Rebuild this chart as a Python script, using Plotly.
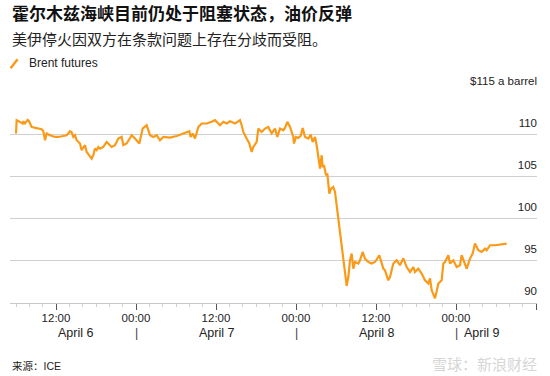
import pandas as pd
import plotly.graph_objects as go

# ---- data (hours since 2026-04-06 00:00, Brent price $/bbl) ----
hours = [6.0, 6.1, 6.6, 7.0, 7.1, 7.35, 7.75, 7.95, 8.35, 8.85,
         9.35, 9.85, 10.1, 10.35, 10.6, 11.1, 11.85, 12.35, 13.1, 13.6,
         14.1, 14.35, 14.6, 14.85, 15.1, 15.6, 15.85, 16.1, 16.35, 16.6,
         17.1, 17.35, 17.6, 17.85, 18.1, 18.35, 18.6, 19.1, 19.6, 20.35,
         20.85, 21.35, 21.85, 22.1, 22.6, 23.35, 23.85, 24.5, 25.0, 25.6,
         26.1, 26.6, 27.1, 27.6, 28.1, 29.1, 30.1, 31.1, 32.0, 32.2,
         32.5, 32.85, 33.35, 33.85, 34.6, 35.35, 35.85, 36.6, 37.1, 37.6,
         38.1, 38.85, 39.6, 39.85, 40.1, 40.6, 41.0, 41.35, 41.6, 42.1,
         42.35, 42.85, 43.35, 43.85, 44.35, 44.85, 45.2, 45.6, 46.1, 46.35,
         46.7, 47.1, 47.6, 47.7, 48.0, 48.35, 48.7, 49.0, 49.35, 49.85,
         50.2, 50.5, 50.85, 51.1, 51.35, 51.6, 51.85, 52.0, 52.2, 52.5,
         52.7, 53.0, 53.25, 53.6, 53.85, 55.6, 55.85, 56.1, 56.35, 56.6,
         56.85, 57.35, 57.6, 58.0, 58.35, 58.85, 59.35, 59.85, 60.5, 61.1,
         61.35, 61.85, 62.1, 62.6, 63.1, 63.6, 64.1, 64.6, 65.1, 65.6,
         65.85, 66.35, 66.85, 67.35, 67.85, 68.1, 68.35, 68.85, 69.1, 69.35,
         69.85, 70.1, 70.35, 70.85, 71.1, 71.6, 72.1, 72.6, 72.85, 73.1,
         73.6, 74.1, 74.5, 74.85, 75.35, 75.85, 76.35, 76.6, 77.1, 77.85,
         79.6]
prices = [110.17, 111.75, 111.55, 111.35, 111.62, 111.35, 111.78, 111.62, 110.94, 110.83,
          110.75, 110.67, 110.43, 109.36, 110.17, 109.96, 109.75, 109.75, 109.87, 109.96,
          110.43, 110.31, 109.75, 109.96, 109.36, 108.97, 108.17, 108.56, 108.77, 107.97,
          107.37, 107.18, 107.58, 108.37, 108.17, 108.56, 108.37, 108.56, 109.16, 108.56,
          108.77, 109.56, 109.75, 108.77, 108.97, 109.96, 109.56, 108.97, 110.75, 111.15,
          109.96, 109.75, 109.96, 109.36, 109.75, 109.68, 109.87, 110.17, 110.43, 109.75,
          110.17, 109.56, 110.94, 111.35, 111.35, 111.55, 111.75, 111.15, 111.55, 111.35,
          111.62, 111.35, 111.75, 111.15, 110.35, 109.56, 108.97, 107.97, 108.56, 109.16,
          110.75, 110.35, 110.75, 110.94, 110.17, 110.75, 109.75, 110.75, 110.55, 110.83,
          111.55, 110.94, 109.75, 108.97, 109.75, 109.64, 109.87, 110.83, 109.75, 109.56,
          110.04, 109.16, 109.75, 108.77, 107.58, 105.99, 107.58, 106.18, 106.39, 105.2,
          105.4, 103.02, 103.61, 103.8, 103.21, 92.05, 93.09, 95.08, 95.88, 94.09,
          94.88, 94.69, 95.08, 96.07, 95.28, 94.88, 94.69, 94.88, 95.68, 94.09,
          93.89, 92.70, 93.09, 94.69, 95.08, 94.49, 95.32, 94.28, 93.69, 94.28,
          93.69, 94.09, 93.50, 92.70, 92.31, 92.94, 91.51, 90.56, 91.39, 92.31,
          92.70, 94.69, 94.88, 95.68, 94.69, 95.08, 94.28, 94.49, 95.68, 95.08,
          94.09, 95.28, 95.88, 97.07, 96.27, 96.07, 96.47, 96.27, 96.87, 96.87,
          97.07]

y_ticks = [90, 95, 100, 105, 110, 115]
y_tick_labels = ["90", "95", "100", "105", "110", "$115 a barrel"]
date_labels = ["April 6", "April 7", "April 8", "April 9"]
date_hours = [12, 36, 60, 72]
midnight_hours = [24, 48, 72]

title = "霍尔木兹海峡目前仍处于阻塞状态，油价反弹"
subtitle = "美伊停火因双方在条款问题上存在分歧而受阻。"
series_name = "Brent futures"
source = "来源：ICE"
watermark = "雪球：新浪财经"

base = pd.Timestamp("2026-04-06 00:00")
times = [base + pd.Timedelta(hours=h) for h in hours]
def t(h):
    return base + pd.Timedelta(hours=h)

ORANGE = "#FA9A18"
FONT = "Liberation Sans, Arial, Noto Sans CJK SC, sans-serif"

fig = go.Figure()
fig.add_trace(go.Scatter(x=times, y=prices, mode="lines", name=series_name,
                         line=dict(color=ORANGE, width=2.2), showlegend=False,
                         hoverinfo="skip"))

fig.update_layout(
    width=550, height=376,
    margin=dict(l=10, r=13, t=92, b=73),
    paper_bgcolor="white", plot_bgcolor="white",
    font=dict(family=FONT, color="#222", size=11),
    showlegend=False,
)
fig.update_xaxes(
    type="date",
    range=[t(5.1), t(84.15)],
    tick0=t(0), dtick=12 * 3600 * 1000, tickformat="%H:%M",
    ticks="outside", ticklen=6, tickcolor="#555", tickwidth=1,
    ticklabelstandoff=-2,
    showgrid=False, zeroline=False,
    showline=True, linecolor="#c8c8c8", linewidth=1,
    tickfont=dict(size=11.5, color="#222"),
    minor=dict(dtick=2 * 3600 * 1000, tick0=t(0), ticks="outside",
               ticklen=3, tickcolor="#cfcfcf", showgrid=False),
)
fig.update_yaxes(
    range=[90, 115.1], side="right",
    tickmode="array", tickvals=y_ticks, ticktext=y_tick_labels,
    ticklabelposition="inside top", ticks="",
    ticklabeloverflow="allow", ticklabelshift=-4, ticklabelstandoff=-3,
    showgrid=True, gridcolor="#cfcfcf", gridwidth=1,
    zeroline=False, showline=False,
    tickfont=dict(size=11.5, color="#222"),
)

ann = []
ann.append(dict(text="<b>" + title + "</b>", xref="paper", yref="paper", x=0, y=1.370,
                xanchor="left", yanchor="middle", showarrow=False,
                font=dict(size=17, color="#111")))
ann.append(dict(text=subtitle, xref="paper", yref="paper", x=0, y=1.2486,
                xanchor="left", yanchor="middle", showarrow=False,
                font=dict(size=15, color="#222")))
ann.append(dict(text=series_name, xref="paper", yref="paper", x=0.033, y=1.137,
                xanchor="left", yanchor="middle", showarrow=False,
                font=dict(size=12, color="#222")))
ann.append(dict(text=source, xref="paper", yref="paper", x=0, y=-0.297,
                xanchor="left", yanchor="middle", showarrow=False,
                font=dict(size=10.5, color="#222")))
ann.append(dict(text=watermark, xref="paper", yref="paper", x=1.003, y=-0.292,
                xanchor="right", yanchor="middle", showarrow=False,
                font=dict(size=15, color="#d6d6d6")))
# date labels
for lbl, h in zip(date_labels, date_hours):
    if lbl == date_labels[0]:
        ann.append(dict(text=lbl, xref="x", yref="paper", x=t(h), y=0, yshift=-30,
                        xanchor="left", yanchor="middle", showarrow=False,
                        font=dict(size=12.5, color="#222")))
    elif lbl == date_labels[-1]:
        ann.append(dict(text=lbl, xref="x", yref="paper", x=t(h), y=0, yshift=-30, xshift=6,
                        xanchor="left", yanchor="middle", showarrow=False,
                        font=dict(size=12.5, color="#222")))
    else:
        ann.append(dict(text=lbl, xref="x", yref="paper", x=t(h), y=0, yshift=-30,
                        xanchor="center", yanchor="middle", showarrow=False,
                        font=dict(size=12.5, color="#222")))
for h in midnight_hours:
    ann.append(dict(text="|", xref="x", yref="paper", x=t(h), y=0, yshift=-30,
                    xanchor="center", yanchor="middle", showarrow=False,
                    font=dict(size=12.5, color="#444")))
fig.update_layout(annotations=ann)

# legend glyph (slash)
fig.add_shape(type="line", xref="paper", yref="paper", x0=0.0011, y0=1.113, x1=0.0144, y1=1.1557,
              line=dict(color=ORANGE, width=2.5))

fig.write_html("out.html")
